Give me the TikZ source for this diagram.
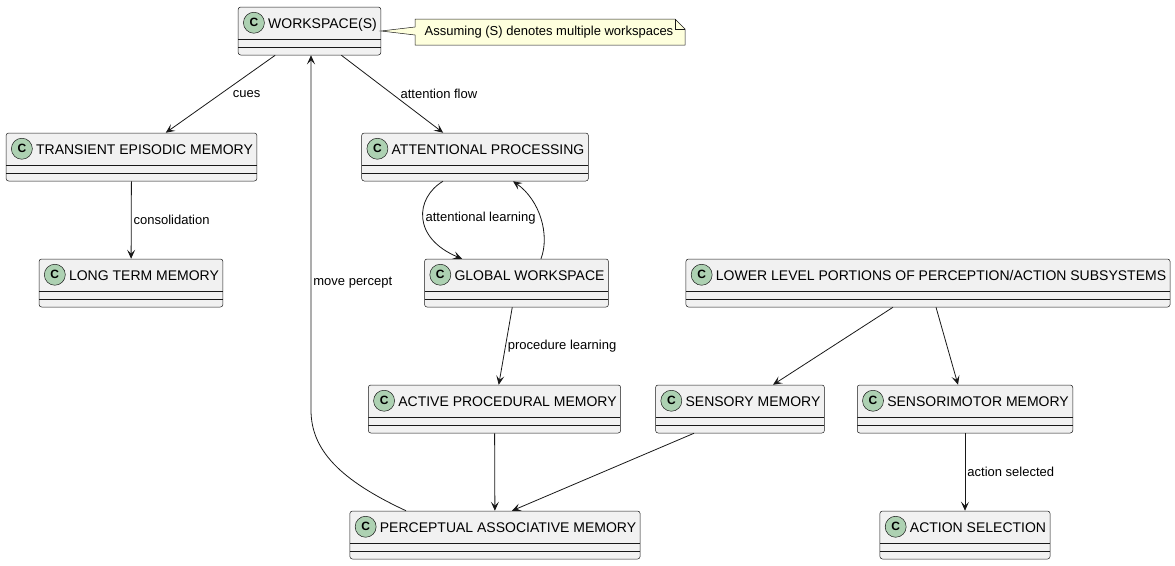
\documentclass[tikz,border=0pt]{standalone}
\usepackage{fontspec}
\setmainfont{Liberation Sans}
\usetikzlibrary{arrows.meta}
\definecolor{class-grey}{HTML}{F1F1F1}
\definecolor{line-dark}{HTML}{181818}
\definecolor{spot-green}{HTML}{ADD1B2}
\definecolor{note-yellow}{HTML}{FEFFDD}
\newcommand{\cname}[1]{\hspace*{26pt}#1\rule[-27pt]{0pt}{48pt}}

\begin{document}
\begin{tikzpicture}[x=1pt, y=1pt]
				\tikzset{spot/.style={circle, draw=line-dark, line width=0.5pt, fill=spot-green, minimum size=21pt, inner sep=0pt, anchor=center, shift={(16pt,-16pt)}, font=\bfseries\fontsize{12}{12}\selectfont}}
				\tikzset{cls/.style={rectangle, draw=line-dark, line width=0.5pt, fill=class-grey, rounded corners=2.5pt, inner xsep=4pt, inner ysep=0pt, font=\fontsize{14}{16}\selectfont, label={[spot]north west:C},
						path picture={\draw[line-dark, line width=0.5pt]
							([yshift=-32pt]path picture bounding box.north west) -- ([yshift=-32pt]path picture bounding box.north east)
							([yshift=-40pt]path picture bounding box.north west) -- ([yshift=-40pt]path picture bounding box.north east);}}}
				\tikzset{arr/.style={-{Stealth[length=9pt, width=8pt, inset=4pt]}, draw=line-dark, line width=0.8pt}}
				\tikzset{lbl/.style={font=\fontsize{13}{15}\selectfont, inner sep=2pt}}
				\useasboundingbox (0,0) rectangle (1175,-565);
				\node[cls] (ws) at (309.5,-31) {\cname{WORKSPACE(S)}};
				\node[cls] (tem) at (131.5,-157) {\cname{TRANSIENT EPISODIC MEMORY}};
				\node[cls] (ltm) at (131,-283) {\cname{LONG TERM MEMORY}};
				\node[cls] (att) at (475,-157) {\cname{ATTENTIONAL PROCESSING}};
				\node[cls] (gw) at (516.5,-283) {\cname{GLOBAL WORKSPACE}};
				\node[cls] (low) at (928,-283) {\cname{LOWER LEVEL PORTIONS OF PERCEPTION/ACTION SUBSYSTEMS}};
				\node[cls] (apm) at (494.5,-409) {\cname{ACTIVE PROCEDURAL MEMORY}};
				\node[cls] (sm) at (740,-409) {\cname{SENSORY MEMORY}};
				\node[cls] (smm) at (965,-409) {\cname{SENSORIMOTOR MEMORY}};
				\node[cls] (pam) at (495,-535) {\cname{PERCEPTUAL ASSOCIATIVE MEMORY}};
				\node[cls] (as) at (965,-535) {\cname{ACTION SELECTION}};
				% note on the workspace
				\draw[line-dark, line width=0.5pt, fill=note-yellow]
				(415,-19) -- (675,-19) -- (685,-29) -- (685,-45) -- (415,-45)
				-- (415,-35) -- (ws.east) -- (415,-27) -- cycle;
				\draw[line-dark, line width=0.5pt] (675,-19) -- (675,-29) -- (685,-29);
				\node[lbl] (note) at (549,-32) {Assuming (S) denotes multiple workspaces};
				\draw[arr] (ws) -- node[lbl, right, xshift=10pt] {cues} (tem);
				\draw[arr] (ws) -- node[lbl, right, xshift=6pt] {attention flow} (att);
				\draw[arr] (tem) -- node[lbl, right] {consolidation} (ltm);
				\draw[arr] ([xshift=-32pt]att.south) .. controls (415,-198) and (412,-238) .. node[lbl, right] {attentional learning} ([xshift=-54.5pt]gw.north);
				\draw[arr] ([xshift=24.5pt]gw.north) .. controls (550,-235) and (540,-200) .. ([xshift=38pt]att.south);
				\draw[arr] (gw) -- node[lbl, right] {procedure learning} (apm);
				\draw[arr] ([xshift=-89pt]pam.north) .. controls (340,-480) and (311,-450) .. (311,-410)
				-- node[lbl, right, pos=.36] {move percept} ([xshift=1.5pt]ws.south);
				\draw[arr] (apm) -- (pam);
				\draw[arr] ([xshift=-46pt]sm.south) -- ([xshift=17pt]pam.north);
				\draw[arr] ([xshift=-35pt]low.south) -- ([xshift=33pt]sm.north);
				\draw[arr] ([xshift=8pt]low.south) -- ([xshift=-7pt]smm.north);
				\draw[arr] (smm) -- node[lbl, right] {action selected} (as);
\end{tikzpicture}
\end{document}
